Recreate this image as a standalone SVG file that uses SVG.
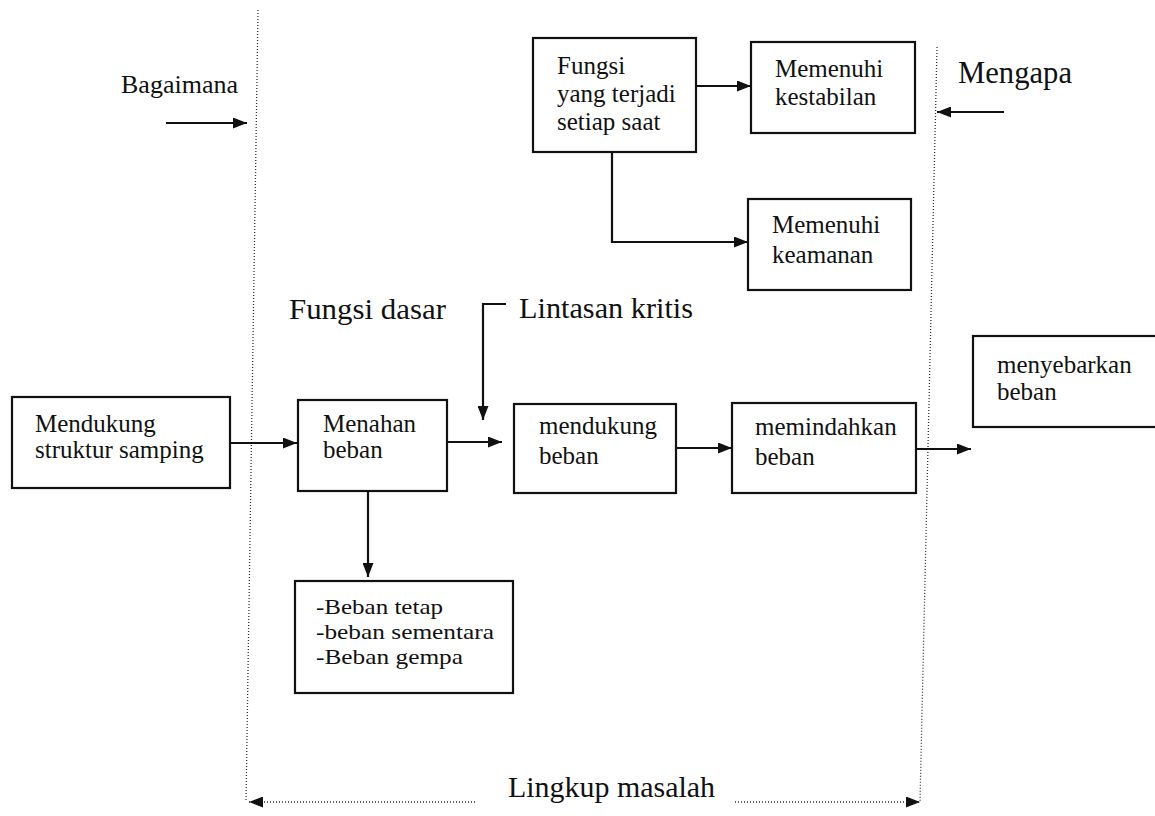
<svg xmlns="http://www.w3.org/2000/svg" width="1155" height="816" viewBox="0 0 1155 816">
  <defs>
    <marker id="arrow" viewBox="0 0 14 11" refX="14" refY="5.5" markerWidth="14" markerHeight="11" markerUnits="userSpaceOnUse" orient="auto">
      <path d="M0,0 L14,5.5 L0,11 Z" fill="#111"/>
    </marker>
    <style>
      .box { fill: #fff; stroke: #111; stroke-width: 2.2; }
      .txt { font-size: 25px; fill: #111; }
      .big { font-size: 30px; fill: #111; }
      .conn { fill: none; stroke: #111; stroke-width: 2.2; }
      .dot { fill: none; stroke: #333; stroke-width: 1.3; stroke-dasharray: 1 2; }
    </style>
  </defs>
  <rect width="1155" height="816" fill="#fff"/>

  <g font-family="'Liberation Serif', 'Times New Roman', serif">
  <!-- scope boundaries and side labels -->
  <g id="scope">
    <path class="dot" d="M258,10 L246,802"/>
    <path class="dot" d="M937,47 L920,802"/>
    <path class="dot" d="M475,802 L249,802" marker-end="url(#arrow)"/>
    <path class="dot" d="M735,802 L920,802" marker-end="url(#arrow)"/>
    <text class="big" x="508" y="797" textLength="207" lengthAdjust="spacingAndGlyphs">Lingkup masalah</text>
    <text class="txt" x="121" y="93" style="font-size:26px" textLength="117" lengthAdjust="spacingAndGlyphs">Bagaimana</text>
    <text class="big" x="958" y="83" style="font-size:32px" textLength="114" lengthAdjust="spacingAndGlyphs">Mengapa</text>
    <text class="big" x="289" y="319" textLength="157" lengthAdjust="spacingAndGlyphs">Fungsi dasar</text>
    <text class="big" x="519" y="318" textLength="174" lengthAdjust="spacingAndGlyphs">Lintasan kritis</text>
  </g>

  <!-- nodes -->
  <g id="fungsi-setiap-saat">
    <rect class="box" x="533" y="38" width="163" height="114"/>
    <text class="txt" x="557" y="74">Fungsi</text>
    <text class="txt" x="557" y="102">yang terjadi</text>
    <text class="txt" x="557" y="130">setiap saat</text>
  </g>
  <g id="memenuhi-kestabilan">
    <rect class="box" x="751" y="42" width="164" height="91"/>
    <text class="txt" x="775" y="77">Memenuhi</text>
    <text class="txt" x="775" y="105">kestabilan</text>
  </g>
  <g id="memenuhi-keamanan">
    <rect class="box" x="748" y="199" width="163" height="91"/>
    <text class="txt" x="772" y="233">Memenuhi</text>
    <text class="txt" x="772" y="263">keamanan</text>
  </g>
  <g id="mendukung-struktur">
    <rect class="box" x="12" y="397" width="218" height="91"/>
    <text class="txt" x="35" y="432">Mendukung</text>
    <text class="txt" x="35" y="458">struktur samping</text>
  </g>
  <g id="menahan-beban">
    <rect class="box" x="298" y="400" width="149" height="91"/>
    <text class="txt" x="323" y="432">Menahan</text>
    <text class="txt" x="323" y="458">beban</text>
  </g>
  <g id="mendukung-beban">
    <rect class="box" x="514" y="404" width="162" height="89"/>
    <text class="txt" x="539" y="434">mendukung</text>
    <text class="txt" x="539" y="464">beban</text>
  </g>
  <g id="memindahkan-beban">
    <rect class="box" x="732" y="403" width="184" height="90"/>
    <text class="txt" x="755" y="435">memindahkan</text>
    <text class="txt" x="755" y="465">beban</text>
  </g>
  <g id="menyebarkan-beban">
    <rect class="box" x="973" y="336" width="190" height="91"/>
    <text class="txt" x="997" y="373">menyebarkan</text>
    <text class="txt" x="997" y="400">beban</text>
  </g>
  <g id="jenis-beban">
    <rect class="box" x="295" y="581" width="218" height="112"/>
    <text class="txt" x="316" y="614" style="font-size:22px" textLength="127" lengthAdjust="spacingAndGlyphs">-Beban tetap</text>
    <text class="txt" x="316" y="639" style="font-size:22px" textLength="178" lengthAdjust="spacingAndGlyphs">-beban sementara</text>
    <text class="txt" x="316" y="664" style="font-size:22px" textLength="147" lengthAdjust="spacingAndGlyphs">-Beban gempa</text>
  </g>
  </g>

  <!-- connectors -->
  <g id="connectors">
    <path class="conn" d="M166,123 L247,123" marker-end="url(#arrow)"/>
    <path class="conn" d="M1004,112 L937,112" marker-end="url(#arrow)"/>
    <path class="conn" d="M696,86 L751,86" marker-end="url(#arrow)"/>
    <path class="conn" d="M612,152 L612,242 L748,242" marker-end="url(#arrow)"/>
    <path class="conn" d="M230,443 L297,443" marker-end="url(#arrow)"/>
    <path class="conn" d="M447,442 L502,442" marker-end="url(#arrow)"/>
    <path class="conn" d="M506,304 L483,304 L483,420" marker-end="url(#arrow)"/>
    <path class="conn" d="M676,448 L732,448" marker-end="url(#arrow)"/>
    <path class="conn" d="M916,449 L971,449" marker-end="url(#arrow)"/>
    <path class="conn" d="M368,491 L368,577" marker-end="url(#arrow)"/>
  </g>
</svg>
